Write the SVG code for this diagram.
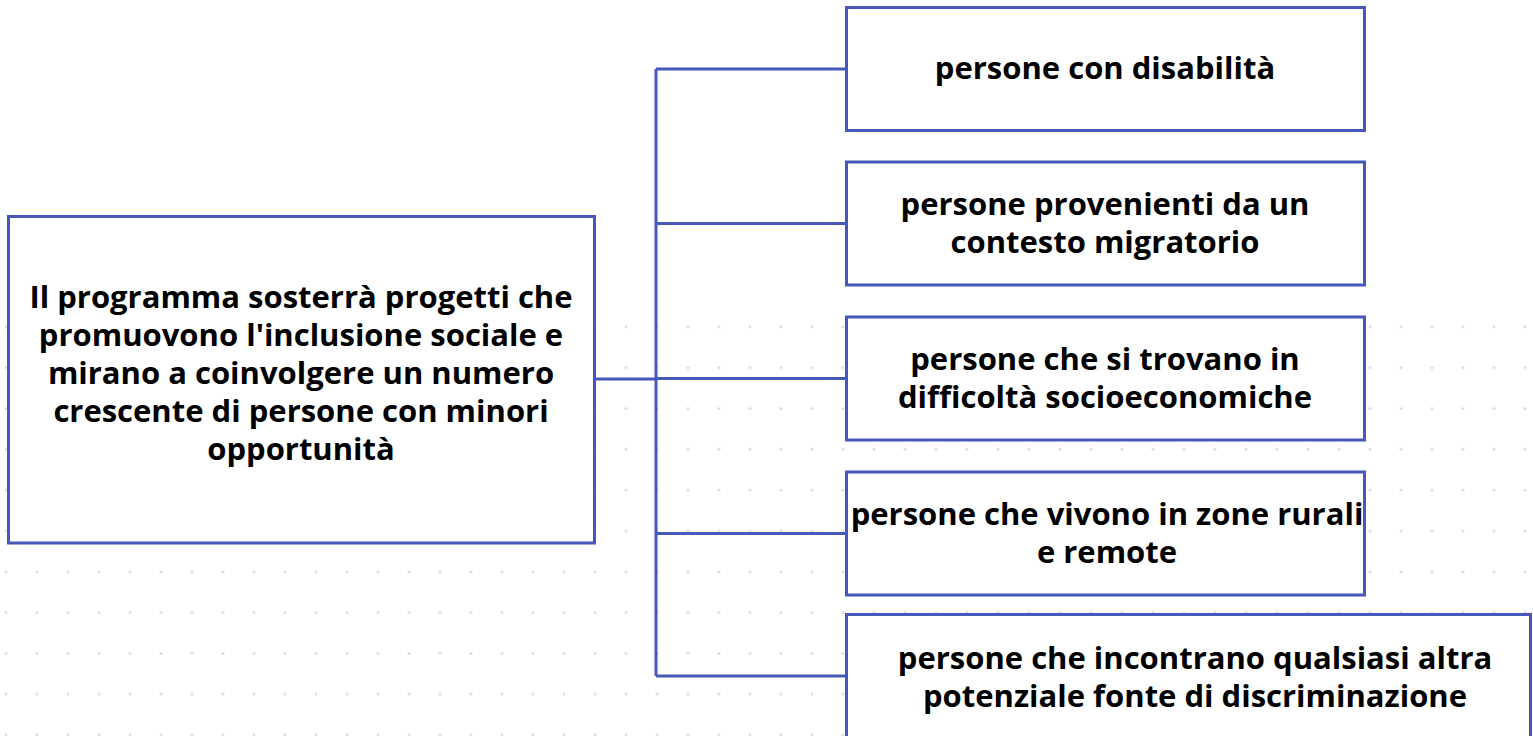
<svg xmlns="http://www.w3.org/2000/svg" width="1533" height="736" viewBox="0 0 1533 736">
<defs>
<pattern id="dots" patternUnits="userSpaceOnUse" x="-9.5" y="306.6" width="31" height="40.8">
<circle cx="15.5" cy="20.4" r="1.3" fill="#d2d2d2"/>
</pattern>
<style>
.box{fill:#ffffff;stroke:#4658B9;stroke-width:3}
.conn{fill:none;stroke:#4658B9;stroke-width:3}
.t{font-family:"Open Sans","Noto Sans","Liberation Sans",sans-serif;font-weight:bold;font-size:31px;fill:#000000;text-anchor:middle}
</style>
</defs>
<rect width="1533" height="736" fill="#ffffff"/>
<rect x="0" y="306" width="1533" height="430" fill="url(#dots)"/>
<g id="connectors">
<path class="conn" d="M594.5 379 H656 M656 69 V676 M656 69 H846.5 M656 223.5 H846.5 M656 378.5 H846.5 M656 533.5 H846.5 M656 676 H846.5"/>
</g>
<g id="root">
<rect class="box" x="8.5" y="216.5" width="586" height="326.5"/>
<text class="t"><tspan x="301" y="308">Il programma sosterrà progetti che</tspan><tspan x="301" y="346">promuovono l'inclusione sociale e</tspan><tspan x="301" y="384">mirano a coinvolgere un numero</tspan><tspan x="301" y="422">crescente di persone con minori</tspan><tspan x="301" y="460">opportunità</tspan></text>
</g>
<g id="n1">
<rect class="box" x="846.5" y="7.5" width="518" height="123"/>
<text class="t"><tspan x="1105" y="79">persone con disabilità</tspan></text>
</g>
<g id="n2">
<rect class="box" x="846.5" y="162" width="518" height="123"/>
<text class="t"><tspan x="1105" y="215">persone provenienti da un</tspan><tspan x="1105" y="253">contesto migratorio</tspan></text>
</g>
<g id="n3">
<rect class="box" x="846.5" y="317" width="518" height="123"/>
<text class="t"><tspan x="1105" y="370">persone che si trovano in</tspan><tspan x="1105" y="408">difficoltà socioeconomiche</tspan></text>
</g>
<g id="n4">
<rect class="box" x="846.5" y="472" width="518" height="123"/>
<text class="t"><tspan x="1107" y="525">persone che vivono in zone rurali</tspan><tspan x="1107" y="563">e remote</tspan></text>
</g>
<g id="n5">
<rect class="box" x="846.5" y="614.5" width="684" height="130"/>
<text class="t"><tspan x="1195" y="669">persone che incontrano qualsiasi altra</tspan><tspan x="1195" y="707">potenziale fonte di discriminazione</tspan></text>
</g>
</svg>
